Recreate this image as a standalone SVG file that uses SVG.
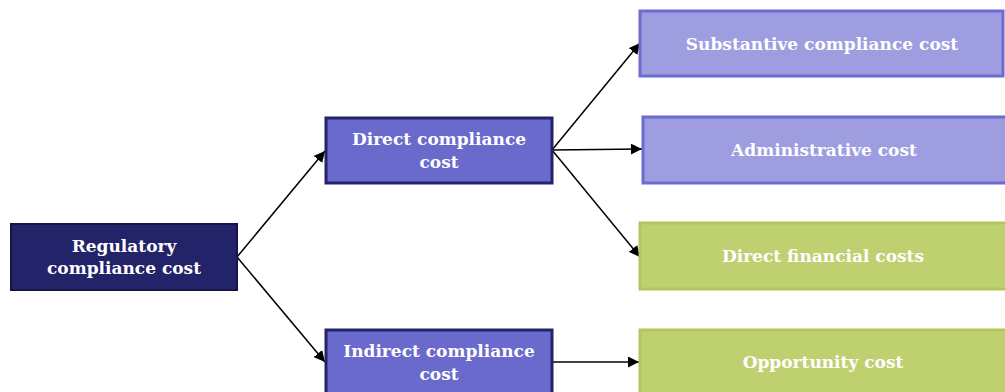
<svg xmlns="http://www.w3.org/2000/svg" width="1005" height="392" viewBox="0 0 1005 392">
<defs>
<marker id="ah" viewBox="0 0 10 10" refX="10" refY="5" markerWidth="11" markerHeight="11" markerUnits="userSpaceOnUse" orient="auto">
<path d="M0,0 L10,5 L0,10 z" fill="#000"/>
</marker>
<style>
text{font-family:"DejaVu Serif","Liberation Serif",serif;font-weight:bold;font-size:17px;fill:#fff;text-anchor:middle}
.l1{fill:#23236a;stroke:#15154a;stroke-width:2}
.l2{fill:#6a6acd;stroke:#23236a;stroke-width:3}
.l3{fill:#9d9de0;stroke:#6b6bd4;stroke-width:3}
.g{fill:#bfd070;stroke:#b0c85a;stroke-width:3}
.c{stroke:#000;stroke-width:1.5;fill:none;marker-end:url(#ah)}
</style>
</defs>
<g id="connectors">
<line class="c" x1="237" y1="257" x2="325" y2="151"/>
<line class="c" x1="237" y1="257" x2="325" y2="362"/>
<line class="c" x1="552" y1="150" x2="640" y2="43"/>
<line class="c" x1="552" y1="150" x2="642" y2="149"/>
<line class="c" x1="552" y1="150" x2="640" y2="257"/>
<line class="c" x1="552" y1="362" x2="639" y2="362"/>
</g>
<g id="regulatory">
<rect class="l1" x="11" y="224" width="226" height="66"/>
<text x="124" y="252">Regulatory</text>
<text x="124" y="274">compliance cost</text>
</g>
<g id="direct">
<rect class="l2" x="326" y="118" width="226" height="65"/>
<text x="439" y="145">Direct compliance</text>
<text x="439" y="168">cost</text>
</g>
<g id="indirect">
<rect class="l2" x="326" y="330" width="226" height="70"/>
<text x="439" y="357">Indirect compliance</text>
<text x="439" y="380">cost</text>
</g>
<g id="substantive">
<rect class="l3" x="640" y="11" width="363" height="65"/>
<text x="822" y="50">Substantive compliance cost</text>
</g>
<g id="administrative">
<rect class="l3" x="643" y="117" width="365" height="66"/>
<text x="824" y="156">Administrative cost</text>
</g>
<g id="financial">
<rect class="g" x="640" y="223" width="367" height="66"/>
<text x="823" y="262">Direct financial costs</text>
</g>
<g id="opportunity">
<rect class="g" x="640" y="330" width="367" height="70"/>
<text x="823" y="368">Opportunity cost</text>
</g>
</svg>
